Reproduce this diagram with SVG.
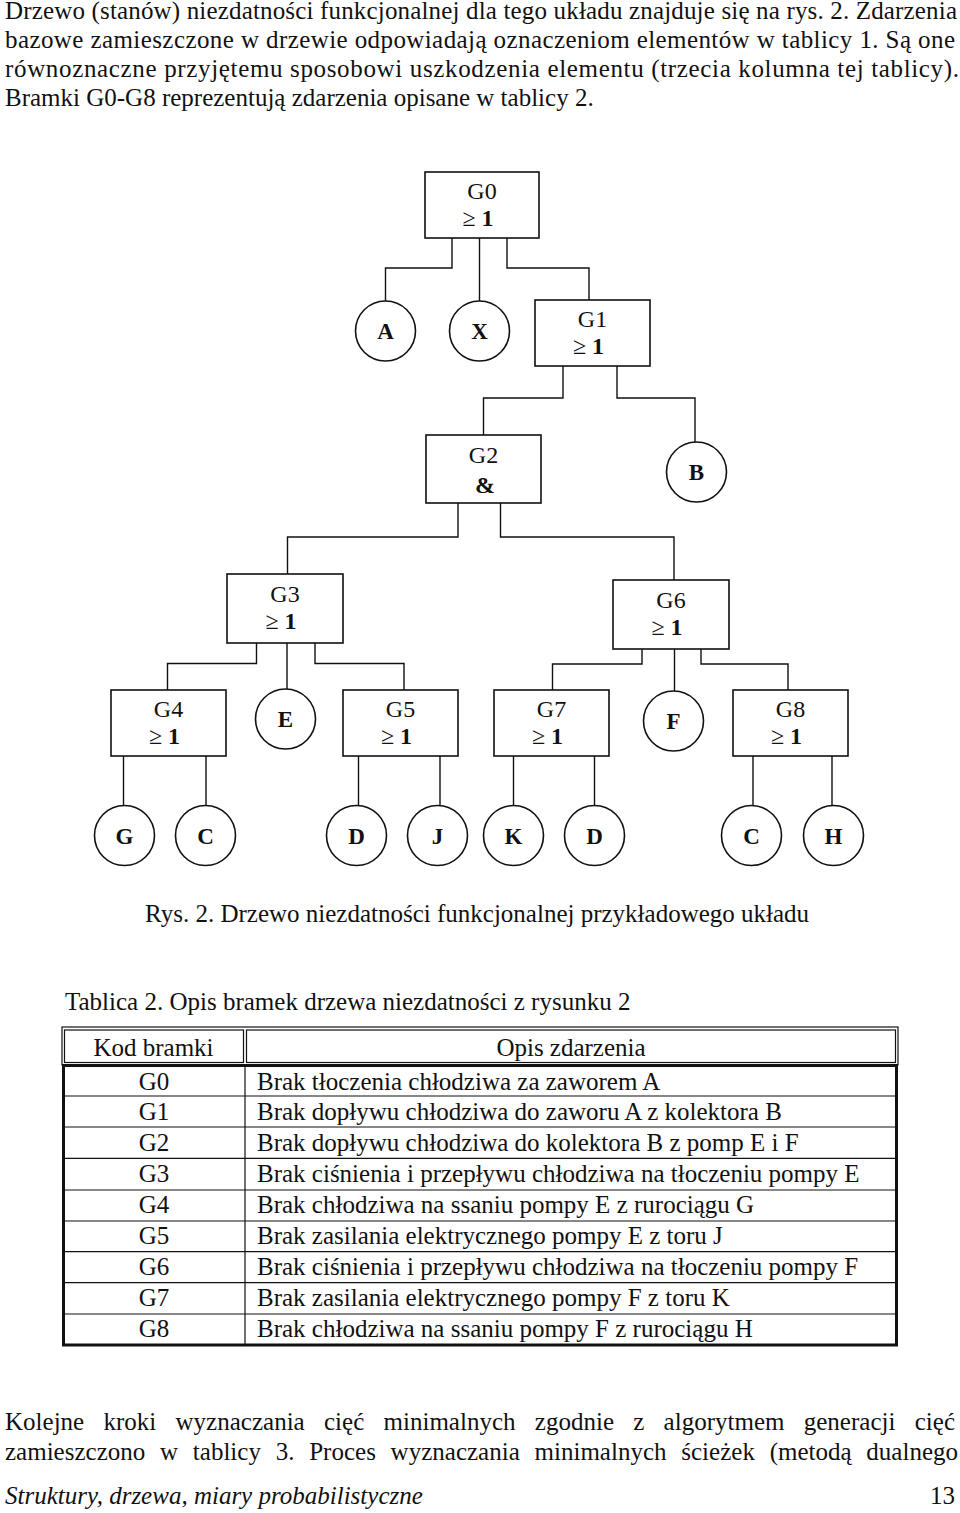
<svg xmlns="http://www.w3.org/2000/svg" width="960" height="1513" viewBox="0 0 960 1513">
<style>
  text { font-family: "Liberation Serif", "Times New Roman", serif; fill: #111; }
  .body { font-size: 25px; }
  .gl { font-size: 24px; text-anchor: middle; }
  .cl { font-size: 23px; font-weight: bold; text-anchor: middle; }
  .gate { fill: #fff; stroke: #111; stroke-width: 1.6; }
  .ev { fill: #fff; stroke: #111; stroke-width: 1.6; }
  .conn { fill: none; stroke: #111; stroke-width: 1.4; }
  .tl { stroke: #111; stroke-width: 1.2; fill: none; }
  .tt { font-size: 25px; }
  .code { font-size: 25px; text-anchor: middle; }
  .b { font-weight: bold; }
</style>

<!-- page text -->
<g id="intro">
  <text class="body" x="5" y="19" textLength="952" lengthAdjust="spacing">Drzewo (stanów) niezdatności funkcjonalnej dla tego układu znajduje się na rys. 2. Zdarzenia</text>
  <text class="body" x="5" y="48" textLength="950" lengthAdjust="spacing">bazowe zamieszczone w drzewie odpowiadają oznaczeniom elementów w tablicy 1. Są one</text>
  <text class="body" x="5" y="77" textLength="954" lengthAdjust="spacing">równoznaczne przyjętemu sposobowi uszkodzenia elementu (trzecia kolumna tej tablicy).</text>
  <text class="body" x="5" y="105.5">Bramki G0-G8 reprezentują zdarzenia opisane w tablicy 2.</text>
</g>

<!-- connectors -->
<g id="connectors" class="conn">
  <path d="M452,238 V268 H385.5 V301"/>
  <path d="M479.5,238 V301"/>
  <path d="M507,238 V268 H589 V300"/>
  <path d="M563,366 V398 H483.5 V435"/>
  <path d="M617,366 V398 H695 V442"/>
  <path d="M458,503 V537 H287.5 V574"/>
  <path d="M500.5,503 V537 H674 V580"/>
  <path d="M256.5,643 V663.5 H167.5 V690"/>
  <path d="M287,643 V689"/>
  <path d="M315,643 V663.5 H404 V690"/>
  <path d="M642,649 V664 H552.5 V690"/>
  <path d="M674.5,649 V691"/>
  <path d="M701,649 V664 H788 V690"/>
  <path d="M123.5,756 V806"/>
  <path d="M206,756 V806"/>
  <path d="M358.5,756 V806"/>
  <path d="M440,756 V806"/>
  <path d="M513.5,756 V806"/>
  <path d="M594.5,756 V806"/>
  <path d="M753,756 V806"/>
  <path d="M832,756 V806"/>
</g>

<!-- gates -->
<g id="G0"><rect class="gate" x="425" y="172" width="114" height="66"/>
  <text class="gl" x="482" y="198.5">G0</text>
  <text class="gl" x="478" y="226">≥ <tspan class="b">1</tspan></text></g>
<g id="G1"><rect class="gate" x="535" y="300" width="115" height="66"/>
  <text class="gl" x="592.5" y="326.5">G1</text>
  <text class="gl" x="588.5" y="354">≥ <tspan class="b">1</tspan></text></g>
<g id="G2"><rect class="gate" x="426" y="435" width="115" height="68"/>
  <text class="gl" x="483.5" y="462.5">G2</text>
  <text class="gl b" x="485" y="493">&amp;</text></g>
<g id="G3"><rect class="gate" x="227" y="574" width="116" height="69"/>
  <text class="gl" x="285" y="601.5">G3</text>
  <text class="gl" x="281" y="629">≥ <tspan class="b">1</tspan></text></g>
<g id="G6"><rect class="gate" x="613" y="580" width="116" height="69"/>
  <text class="gl" x="671" y="607.5">G6</text>
  <text class="gl" x="667" y="635">≥ <tspan class="b">1</tspan></text></g>
<g id="G4"><rect class="gate" x="111" y="690" width="115" height="66"/>
  <text class="gl" x="168.5" y="716.5">G4</text>
  <text class="gl" x="164.5" y="744">≥ <tspan class="b">1</tspan></text></g>
<g id="G5"><rect class="gate" x="343" y="690" width="115" height="66"/>
  <text class="gl" x="400.5" y="716.5">G5</text>
  <text class="gl" x="396.5" y="744">≥ <tspan class="b">1</tspan></text></g>
<g id="G7"><rect class="gate" x="494" y="690" width="115" height="66"/>
  <text class="gl" x="551.5" y="716.5">G7</text>
  <text class="gl" x="547.5" y="744">≥ <tspan class="b">1</tspan></text></g>
<g id="G8"><rect class="gate" x="733" y="690" width="115" height="66"/>
  <text class="gl" x="790.5" y="716.5">G8</text>
  <text class="gl" x="786.5" y="744">≥ <tspan class="b">1</tspan></text></g>

<!-- basic events -->
<g id="evA"><circle class="ev" cx="385.5" cy="331" r="30"/><text class="cl" x="385.5" y="339">A</text></g>
<g id="evX"><circle class="ev" cx="479.5" cy="331" r="30"/><text class="cl" x="479.5" y="339">X</text></g>
<g id="evB"><circle class="ev" cx="696.5" cy="472" r="30"/><text class="cl" x="696.5" y="480">B</text></g>
<g id="evE"><circle class="ev" cx="285.5" cy="719" r="30"/><text class="cl" x="285.5" y="727">E</text></g>
<g id="evF"><circle class="ev" cx="673.5" cy="721" r="30"/><text class="cl" x="673.5" y="729">F</text></g>
<g id="evG"><circle class="ev" cx="124.5" cy="835.5" r="30"/><text class="cl" x="124.5" y="843.5">G</text></g>
<g id="evC1"><circle class="ev" cx="205.5" cy="835.5" r="30"/><text class="cl" x="205.5" y="843.5">C</text></g>
<g id="evD1"><circle class="ev" cx="356.5" cy="835.5" r="30"/><text class="cl" x="356.5" y="843.5">D</text></g>
<g id="evJ"><circle class="ev" cx="437.5" cy="835.5" r="30"/><text class="cl" x="437.5" y="843.5">J</text></g>
<g id="evK"><circle class="ev" cx="513.5" cy="835.5" r="30"/><text class="cl" x="513.5" y="843.5">K</text></g>
<g id="evD2"><circle class="ev" cx="594.5" cy="835.5" r="30"/><text class="cl" x="594.5" y="843.5">D</text></g>
<g id="evC2"><circle class="ev" cx="751.5" cy="835.5" r="30"/><text class="cl" x="751.5" y="843.5">C</text></g>
<g id="evH"><circle class="ev" cx="833.5" cy="835.5" r="30"/><text class="cl" x="833.5" y="843.5">H</text></g>

<g id="captions">
  <text class="body" x="145" y="922">Rys. 2. Drzewo niezdatności funkcjonalnej przykładowego układu</text>
  <text class="body" x="65" y="1009.5">Tablica 2. Opis bramek drzewa niezdatności z rysunku 2</text>
</g>

<!-- table -->
<g id="table">
  <rect class="tl" x="62" y="1027" width="836" height="38"/>
  <rect class="tl" x="64.5" y="1030" width="179" height="32.5"/>
  <rect class="tl" x="246.5" y="1030" width="649" height="32.5"/>
  <rect x="63.5" y="1065.5" width="833" height="279.5" fill="none" stroke="#111" stroke-width="3"/>
  <line class="tl" x1="245" y1="1065" x2="245" y2="1345"/>
  <line class="tl" x1="63" y1="1096" x2="897" y2="1096"/>
  <line class="tl" x1="63" y1="1127" x2="897" y2="1127"/>
  <line class="tl" x1="63" y1="1158.3" x2="897" y2="1158.3"/>
  <line class="tl" x1="63" y1="1190" x2="897" y2="1190"/>
  <line class="tl" x1="63" y1="1221" x2="897" y2="1221"/>
  <line class="tl" x1="63" y1="1251.7" x2="897" y2="1251.7"/>
  <line class="tl" x1="63" y1="1282.7" x2="897" y2="1282.7"/>
  <line class="tl" x1="63" y1="1314" x2="897" y2="1314"/>
  <text class="code" x="153.5" y="1056">Kod bramki</text>
  <text class="code" x="571" y="1056">Opis zdarzenia</text>
  <text class="code" x="154" y="1089.5">G0</text>
  <text class="code" x="154" y="1120.4">G1</text>
  <text class="code" x="154" y="1151.3">G2</text>
  <text class="code" x="154" y="1182.2">G3</text>
  <text class="code" x="154" y="1213.1">G4</text>
  <text class="code" x="154" y="1244">G5</text>
  <text class="code" x="154" y="1274.9">G6</text>
  <text class="code" x="154" y="1305.8">G7</text>
  <text class="code" x="154" y="1336.8">G8</text>
  <text class="tt" x="257" y="1089.5">Brak tłoczenia chłodziwa za zaworem A</text>
  <text class="tt" x="257" y="1120.4">Brak dopływu chłodziwa do zaworu A z kolektora B</text>
  <text class="tt" x="257" y="1151.3">Brak dopływu chłodziwa do kolektora B z pomp E i F</text>
  <text class="tt" x="257" y="1182.2">Brak ciśnienia i przepływu chłodziwa na tłoczeniu pompy E</text>
  <text class="tt" x="257" y="1213.1">Brak chłodziwa na ssaniu pompy E z rurociągu G</text>
  <text class="tt" x="257" y="1244">Brak zasilania elektrycznego pompy E z toru J</text>
  <text class="tt" x="257" y="1274.9">Brak ciśnienia i przepływu chłodziwa na tłoczeniu pompy F</text>
  <text class="tt" x="257" y="1305.8">Brak zasilania elektrycznego pompy F z toru K</text>
  <text class="tt" x="257" y="1336.8">Brak chłodziwa na ssaniu pompy F z rurociągu H</text>
</g>

<g id="outro">
  <text class="body" x="5" y="1429.5" word-spacing="13" textLength="950" lengthAdjust="spacing">Kolejne kroki wyznaczania cięć minimalnych zgodnie z algorytmem generacji cięć</text>
  <text class="body" x="5" y="1459.5" word-spacing="8.5" textLength="953" lengthAdjust="spacing">zamieszczono w tablicy 3. Proces wyznaczania minimalnych ścieżek (metodą dualnego</text>
  <text class="body" x="5" y="1504" font-style="italic">Struktury, drzewa, miary probabilistyczne</text>
  <text class="body" x="955" y="1504" text-anchor="end">13</text>
</g>
</svg>
